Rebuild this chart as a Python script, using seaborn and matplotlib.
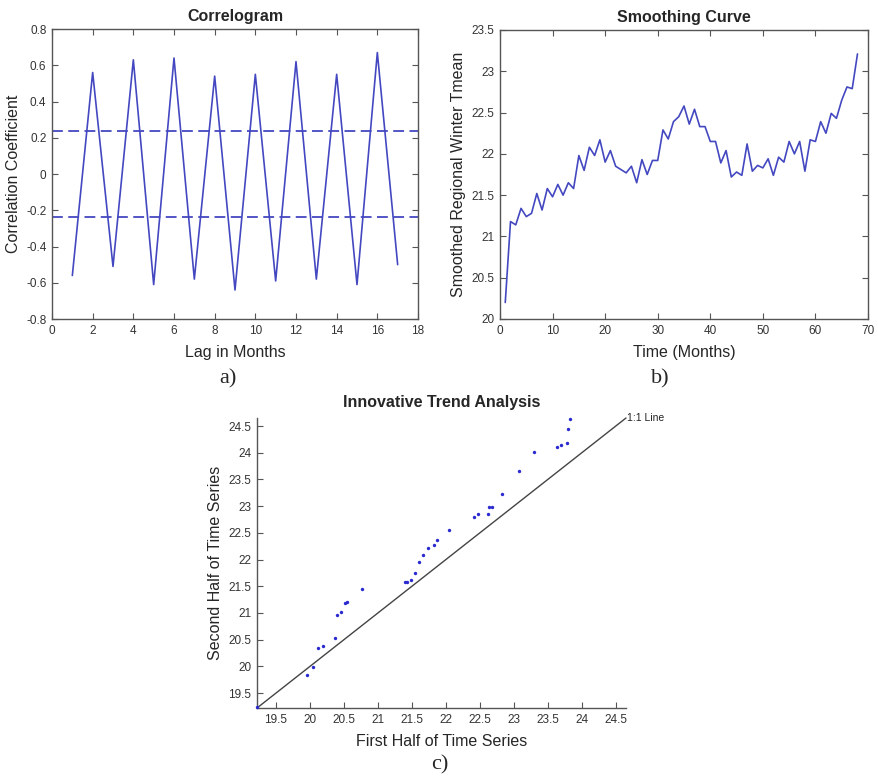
import numpy as np
import pandas as pd
import matplotlib
matplotlib.use("Agg")
import matplotlib.pyplot as plt
import seaborn as sns

# Autocorrelation of the regional series, lags 1-17
lags = list(range(1, 18))
acf = [-0.56, 0.56, -0.51, 0.63, -0.61, 0.64, -0.58, 0.54, -0.64,
       0.55, -0.59, 0.62, -0.58, 0.55, -0.61, 0.67, -0.50]
conf_limit = 0.2377

# Smoothed regional winter mean temperature, months 1-68
months = list(range(1, 69))
smoothed = [20.20, 21.18, 21.14, 21.34, 21.24, 21.28, 21.52, 21.32, 21.58, 21.48,
            21.63, 21.50, 21.65, 21.58, 21.98, 21.80, 22.08, 21.98, 22.17, 21.90,
            22.04, 21.85, 21.81, 21.77, 21.85, 21.65, 21.93, 21.75, 21.92, 21.92,
            22.29, 22.18, 22.39, 22.45, 22.58, 22.36, 22.54, 22.33, 22.33, 22.15,
            22.15, 21.89, 22.04, 21.72, 21.78, 21.74, 22.12, 21.79, 21.86, 21.83,
            21.94, 21.74, 21.96, 21.90, 22.15, 22.00, 22.15, 21.79, 22.17, 22.15,
            22.39, 22.25, 22.49, 22.43, 22.65, 22.81, 22.79, 23.21]

# Sorted halves of the series for the innovative trend analysis
first_half = [19.22, 19.96, 20.05, 20.12, 20.19, 20.37, 20.40, 20.45, 20.52, 20.54,
              20.76, 21.40, 21.43, 21.49, 21.55, 21.61, 21.66, 21.74, 21.83, 21.87,
              22.05, 22.41, 22.47, 22.62, 22.64, 22.68, 22.82, 23.08, 23.30, 23.63,
              23.69, 23.78, 23.79, 23.82]
second_half = [19.23, 19.84, 19.99, 20.34, 20.38, 20.53, 20.97, 21.01, 21.19, 21.21,
               21.44, 21.58, 21.58, 21.61, 21.74, 21.96, 22.09, 22.22, 22.28, 22.37,
               22.56, 22.80, 22.85, 22.85, 22.98, 22.98, 23.23, 23.65, 24.02, 24.10,
               24.15, 24.18, 24.44, 24.63]
ita_ticks = [19.5, 20, 20.5, 21, 21.5, 22, 22.5, 23, 23.5, 24, 24.5]
ita_lim = (19.22, 24.65)

sns.set_theme(style="white")
plt.rcParams["font.family"] = ["Liberation Sans", "DejaVu Sans"]

W, H = 879, 779
fig = plt.figure(figsize=(W / 100, H / 100), dpi=100)


def px_axes(left, top, right, bottom):
    return fig.add_axes([left / W, 1 - bottom / H, (right - left) / W, (bottom - top) / H])


LINE = "#4448c0"
SPINE = "#555555"
TICKTXT = "#333333"
TITLE_FS = 11.5
LABEL_FS = 11.5


def style_axes(ax, box=True):
    for side, sp in ax.spines.items():
        sp.set_color(SPINE)
        sp.set_linewidth(1.0)
        if not box and side in ("top", "right"):
            sp.set_visible(False)
    ax.tick_params(direction="in", length=4, width=0.8, color=SPINE,
                   labelsize=8.5, labelcolor=TICKTXT, pad=4,
                   top=box, right=box, bottom=True, left=True)


def fmt(v):
    s = f"{v:g}"
    return "0" if s in ("-0", "0") else s


# a) Correlogram
ax_a = px_axes(52, 29, 418, 319)
sns.lineplot(x=lags, y=acf, ax=ax_a, color=LINE, linewidth=1.2)
for lvl in (conf_limit, -conf_limit):
    ax_a.axhline(lvl, color=LINE, linewidth=1.3, dashes=(6, 3))
ax_a.set_xlim(0, 18)
ax_a.set_ylim(-0.8, 0.8)
ax_a.set_xticks(range(0, 19, 2))
yt = np.round(np.arange(-0.8, 0.81, 0.2), 1)
ax_a.set_yticks(yt)
ax_a.set_yticklabels([fmt(v) for v in yt])
style_axes(ax_a)
ax_a.set_title("Correlogram", fontsize=TITLE_FS, fontweight="bold", pad=6)
ax_a.set_xlabel("Lag in Months", fontsize=LABEL_FS, labelpad=6)
ax_a.set_ylabel("Correlation Coefficient", fontsize=LABEL_FS, labelpad=4)

# b) Smoothing curve
ax_b = px_axes(500, 30, 868, 319)
sns.lineplot(x=months, y=smoothed, ax=ax_b, color=LINE, linewidth=1.2)
ax_b.set_xlim(0, 70)
ax_b.set_ylim(20, 23.5)
ax_b.set_xticks(range(0, 71, 10))
ybt = [20, 20.5, 21, 21.5, 22, 22.5, 23, 23.5]
ax_b.set_yticks(ybt)
ax_b.set_yticklabels([fmt(v) for v in ybt])
style_axes(ax_b)
ax_b.set_title("Smoothing Curve", fontsize=TITLE_FS, fontweight="bold", pad=6)
ax_b.set_xlabel("Time (Months)", fontsize=LABEL_FS, labelpad=6)
ax_b.set_ylabel("Smoothed Regional Winter Tmean", fontsize=LABEL_FS, labelpad=4)

# c) Innovative trend analysis
ax_c = px_axes(257, 418, 626, 708)
sns.scatterplot(x=first_half, y=second_half, ax=ax_c, color="#2a2ad0",
                s=6, linewidth=0, clip_on=False, zorder=3)
ax_c.plot(ita_lim, ita_lim, color="#444444", linewidth=1.0, clip_on=False)
ax_c.text(ita_lim[1] + 0.02, ita_lim[1], "1:1 Line", fontsize=7.5,
          color="#222222", va="center", ha="left")
ax_c.set_xlim(*ita_lim)
ax_c.set_ylim(*ita_lim)
ax_c.set_xticks(ita_ticks)
ax_c.set_xticklabels([fmt(v) for v in ita_ticks])
ax_c.set_yticks(ita_ticks)
ax_c.set_yticklabels([fmt(v) for v in ita_ticks])
style_axes(ax_c, box=False)
ax_c.set_title("Innovative Trend Analysis", fontsize=TITLE_FS, fontweight="bold", pad=8)
ax_c.set_xlabel("First Half of Time Series", fontsize=LABEL_FS, labelpad=6)
ax_c.set_ylabel("Second Half of Time Series", fontsize=LABEL_FS, labelpad=4)

# Panel letters
serif = ["Liberation Serif", "DejaVu Serif"]
fig.text(228 / W, 1 - 379 / H, "a)", fontsize=16, family=serif, ha="center", va="center")
fig.text(660 / W, 1 - 379 / H, "b)", fontsize=16, family=serif, ha="center", va="center")
fig.text(440 / W, 1 - 765 / H, "c)", fontsize=16, family=serif, ha="center", va="center")

fig.savefig("out.png", dpi=100, facecolor="white")
